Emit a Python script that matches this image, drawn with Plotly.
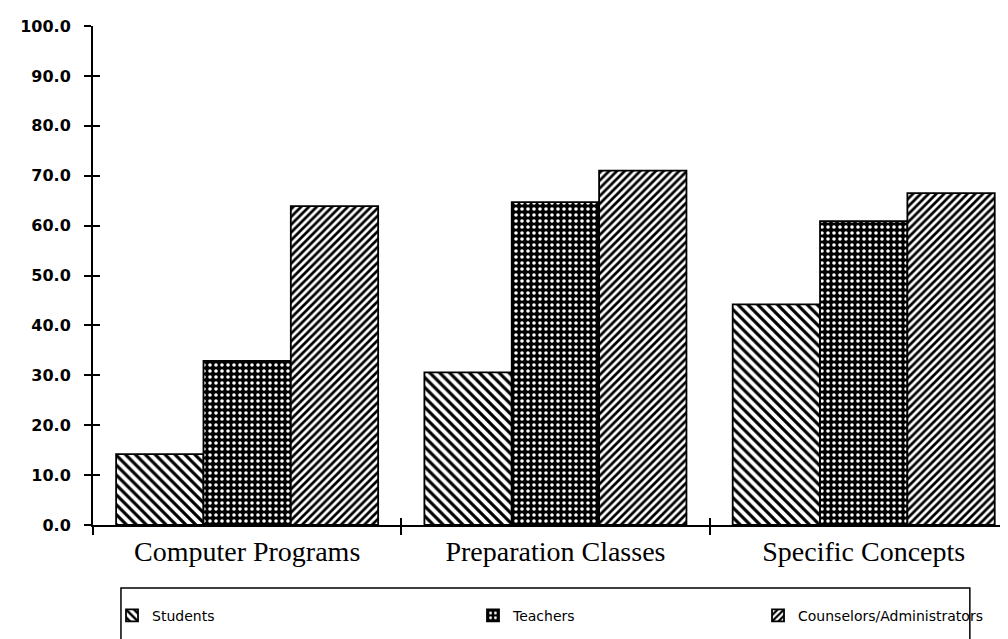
import plotly.graph_objects as go

# survey chart data (percent)
categories = ["Computer Programs", "Preparation Classes", "Specific Concepts"]
students = [14.2, 30.6, 44.2]
teachers = [32.9, 64.7, 60.9]
counselors = [63.9, 71.0, 66.5]

y_ticks = [0, 10, 20, 30, 40, 50, 60, 70, 80, 90, 100]

fig = go.Figure()

# Students: backslash hatching
fig.add_trace(go.Bar(
    x=categories, y=students, name="Students",
    marker=dict(color="white",
                line=dict(color="black", width=1.8),
                pattern=dict(shape="\\", fgcolor="black", bgcolor="white",
                             size=7, solidity=0.45, fillmode="replace")),
    legend="legend",
))

# Teachers: black with white dots
fig.add_trace(go.Bar(
    x=categories, y=teachers, name="Teachers",
    marker=dict(color="black",
                line=dict(color="black", width=1.8),
                pattern=dict(shape=".", fgcolor="white", bgcolor="black",
                             size=6, solidity=0.28, fillmode="replace")),
    legend="legend2",
))

# Counselors/Administrators: slash hatching
fig.add_trace(go.Bar(
    x=categories, y=counselors, name="Counselors/Administrators",
    marker=dict(color="white",
                line=dict(color="black", width=1.8),
                pattern=dict(shape="/", fgcolor="black", bgcolor="white",
                             size=5.5, solidity=0.5, fillmode="replace")),
    legend="legend3",
))

# empty trace so the overlay axes (crossing ticks) get drawn
fig.add_trace(go.Scatter(x=[], y=[], xaxis="x2", yaxis="y2", showlegend=False))

x_range = [-0.5, 2.494]

legend_style = dict(orientation="h", xanchor="left", yanchor="top",
                    bgcolor="rgba(0,0,0,0)", borderwidth=0,
                    font=dict(family="DejaVu Sans", size=14, color="black"))

fig.update_layout(
    width=1008, height=639,
    margin=dict(l=85, r=0, t=18, b=122, autoexpand=False),
    paper_bgcolor="white", plot_bgcolor="white",
    barmode="group", bargap=0.15, bargroupgap=0,
    xaxis=dict(
        range=x_range, showgrid=False, zeroline=False, automargin=False,
        showline=True, linecolor="black", linewidth=2,
        ticks="outside", tickson="boundaries", ticklen=8, tickwidth=2, tickcolor="black",
        tickfont=dict(family="Liberation Serif", size=28, color="black"),
    ),
    xaxis2=dict(
        range=x_range, overlaying="x", anchor="y2", showgrid=False, zeroline=False,
        showline=False, ticks="inside", tickvals=[0.5, 1.5], ticklen=7, tickwidth=2,
        tickcolor="black", showticklabels=False, automargin=False,
    ),
    yaxis=dict(
        range=[0, 100], tickvals=y_ticks, tickformat=".1f",
        showgrid=False, zeroline=False, automargin=False,
        showline=True, linecolor="black", linewidth=2,
        ticks="outside", ticklen=7, tickwidth=2, tickcolor="black",
        ticklabelstandoff=10,
        tickfont=dict(family="DejaVu Sans", size=16, color="black", weight="bold"),
    ),
    yaxis2=dict(
        range=[0, 100], tickvals=y_ticks, overlaying="y", anchor="x2", side="left",
        showgrid=False, zeroline=False, showline=False, automargin=False,
        ticks="inside", ticklen=7, tickwidth=2, tickcolor="black", showticklabels=False,
    ),
    legend=dict(x=0.0206, y=-0.150, **legend_style),
    legend2=dict(x=0.4117, y=-0.150, **legend_style),
    legend3=dict(x=0.7205, y=-0.150, **legend_style),
    shapes=[dict(type="rect", xref="paper", yref="paper",
                 x0=0.0303, x1=0.950, y0=-0.1263, y1=-0.30,
                 line=dict(color="black", width=1.5), layer="above")],
    showlegend=True,
)

fig.write_html("out.html")
